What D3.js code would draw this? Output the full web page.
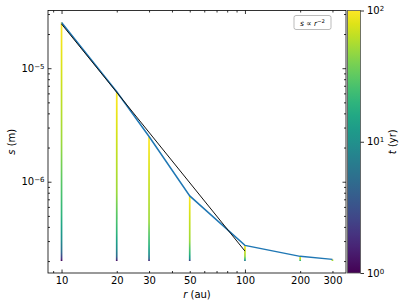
<!DOCTYPE html>
<html>
<head>
<meta charset="utf-8">
<script src="https://cdn.jsdelivr.net/npm/d3@7"></script>
<style>
  body { margin: 0; background: #fff; }
  text { font-family: "DejaVu Sans", sans-serif; fill: #000; }
</style>
</head>
<body>
<svg id="chart" width="407" height="307"></svg>
<script>
// radii (au) and the grain size reached at each output time
const radii = [10, 20, 30, 50, 100, 200, 300];
const times = [1, 2, 5, 10, 20, 50, 100];
const sizeTracks = [
    [2.0e-7, 2.1e-7, 2.4e-7, 3.1e-7, 5.1e-7, 2.2e-6, 2.53e-5],
    [2.0e-7, 2.05e-7, 2.2e-7, 2.6e-7, 3.5e-7, 8.0e-7, 6.2e-6],
    [2.0e-7, 2.02e-7, 2.1e-7, 2.3e-7, 2.8e-7, 4.5e-7, 2.5e-6],
    [2.0e-7, 2.01e-7, 2.04e-7, 2.1e-7, 2.3e-7, 3.0e-7, 7.5e-7],
    [2.0e-7, 2.0e-7, 2.01e-7, 2.03e-7, 2.07e-7, 2.2e-7, 2.75e-7],
    [2.0e-7, 2.0e-7, 2.0e-7, 2.005e-7, 2.015e-7, 2.06e-7, 2.2e-7],
    [2.0e-7, 2.0e-7, 2.0e-7, 2.0e-7, 2.005e-7, 2.02e-7, 2.07e-7]
];
const finalSizes = sizeTracks.map(s => s[s.length - 1]);
const powerLawR = [10, 100];
const powerLawS = [2.45e-5, 2.45e-7];

const xTickValues = [10, 20, 30, 50, 100, 200, 300];
const yMajorTicks = [1e-6, 1e-5];
const cbarTicks = [1, 10, 100];

const margin = { top: 10.5, right: 61, bottom: 34, left: 48 },
      width = 407 - margin.left - margin.right,
      height = 307 - margin.top - margin.bottom;

const svg = d3.select("#chart");
const defs = svg.append("defs");
const g = svg.append("g").attr("transform", `translate(${margin.left},${margin.top})`);

// log axes with matplotlib-like 5% margins
const padLog = (lo, hi) => {
    const a = Math.log10(lo), b = Math.log10(hi), p = (b - a) * 0.05;
    return [10 ** (a - p), 10 ** (b + p)];
};
const allS = sizeTracks.flat().concat(powerLawS);
const x = d3.scaleLog().domain(padLog(d3.min(radii), d3.max(radii))).range([0, width]);
const y = d3.scaleLog().domain(padLog(d3.min(allS), d3.max(allS))).range([height, 0]);
const color = d3.scaleSequentialLog(d3.interpolateViridis).domain([1, 100]);

// vertical tracks coloured by time
sizeTracks.forEach((track, i) => {
    const y0 = y(track[0]), y1 = y(track[track.length - 1]);
    const grad = defs.append("linearGradient")
        .attr("id", "track" + i)
        .attr("gradientUnits", "userSpaceOnUse")
        .attr("x1", 0).attr("x2", 0).attr("y1", y0).attr("y2", y1);
    const stops = [];
    for (let k = 0; k < track.length - 1; k++) {
        for (let j = 0; j < 8; j++) {
            const f = j / 8;
            const ls = Math.log10(track[k]) * (1 - f) + Math.log10(track[k + 1]) * f;
            const lt = Math.log10(times[k]) * (1 - f) + Math.log10(times[k + 1]) * f;
            stops.push({ py: y(10 ** ls), t: 10 ** lt });
        }
    }
    stops.push({ py: y1, t: times[times.length - 1] });
    const span = y1 - y0 || -1;
    grad.selectAll("stop").data(stops).enter().append("stop")
        .attr("offset", d => Math.max(0, Math.min(1, (d.py - y0) / span)))
        .attr("stop-color", d => color(d.t));
    g.append("line")
        .attr("x1", x(radii[i])).attr("x2", x(radii[i]) + 0.001)
        .attr("y1", y0).attr("y2", Math.min(y1, y0 - 1.2))
        .attr("stroke", `url(#track${i})`)
        .attr("stroke-width", 1.7);
});

// final sizes
g.append("path")
    .datum(radii.map((r, i) => [r, finalSizes[i]]))
    .attr("fill", "none")
    .attr("stroke", "#1f77b4")
    .attr("stroke-width", 1.5)
    .attr("d", d3.line().x(d => x(d[0])).y(d => y(d[1])));

// s ∝ r^-2 reference
g.append("path")
    .datum(powerLawR.map((r, i) => [r, powerLawS[i]]))
    .attr("fill", "none")
    .attr("stroke", "#111")
    .attr("stroke-width", 1)
    .attr("d", d3.line().x(d => x(d[0])).y(d => y(d[1])));

// minor tick values
const minorX = [];
[1, 10, 100].forEach(d => { for (let m = 1; m < 10; m++) minorX.push(m * d); });
const minorXIn = minorX.filter(v => v >= x.domain()[0] && v <= x.domain()[1] && v !== 10 && v !== 100);
const minorY = [];
[1e-7, 1e-6, 1e-5].forEach(d => { for (let m = 2; m < 10; m++) minorY.push(m * d); });
const minorYIn = minorY.filter(v => v >= y.domain()[0] && v <= y.domain()[1]);

const styleAxis = sel => {
    sel.select(".domain").remove();
    sel.selectAll("line").attr("stroke", "#000").attr("stroke-width", 0.8);
    sel.selectAll("text").style("font-size", "10px").attr("fill", "#000");
};

// bottom
g.append("g").attr("transform", `translate(0,${height})`)
    .call(d3.axisBottom(x).tickValues([10, 100]).tickSize(-3.5).tickFormat(""))
    .call(styleAxis);
g.append("g").attr("transform", `translate(0,${height})`)
    .call(d3.axisBottom(x).tickValues(minorXIn).tickSize(-2).tickFormat(""))
    .call(styleAxis);
g.append("g").attr("transform", `translate(0,${height})`)
    .call(d3.axisBottom(x).tickValues(xTickValues).tickSize(0).tickPadding(4).tickFormat(d3.format("d")))
    .call(styleAxis);
// top
g.append("g")
    .call(d3.axisTop(x).tickValues([10, 100]).tickSize(-3.5).tickFormat(""))
    .call(styleAxis);
g.append("g")
    .call(d3.axisTop(x).tickValues(minorXIn).tickSize(-2).tickFormat(""))
    .call(styleAxis);

// left
const yAxis = g.append("g")
    .call(d3.axisLeft(y).tickValues(yMajorTicks).tickSize(-3.5).tickPadding(3.5))
    .call(styleAxis);
yAxis.selectAll(".tick text").text(null).each(function(d) {
    const t = d3.select(this);
    t.append("tspan").text("10");
    t.append("tspan").attr("dy", "-0.45em").style("font-size", "7px")
        .text("\u2212" + Math.round(-Math.log10(d)));
});
g.append("g")
    .call(d3.axisLeft(y).tickValues(minorYIn).tickSize(-2).tickFormat(""))
    .call(styleAxis);
// right
g.append("g").attr("transform", `translate(${width},0)`)
    .call(d3.axisRight(y).tickValues(yMajorTicks).tickSize(-3.5).tickFormat(""))
    .call(styleAxis);
g.append("g").attr("transform", `translate(${width},0)`)
    .call(d3.axisRight(y).tickValues(minorYIn).tickSize(-2).tickFormat(""))
    .call(styleAxis);

// frame
g.append("rect")
    .attr("width", width).attr("height", height)
    .attr("fill", "none").attr("stroke", "#000").attr("stroke-width", 0.8);

// axis labels
g.append("text")
    .attr("x", width / 2).attr("y", height + 24.5)
    .attr("text-anchor", "middle").style("font-size", "10px")
    .call(t => {
        t.append("tspan").style("font-style", "italic").text("r");
        t.append("tspan").text(" (au)");
    });
g.append("text")
    .attr("transform", `translate(-33,${height / 2}) rotate(-90)`)
    .attr("text-anchor", "middle").style("font-size", "10px")
    .call(t => {
        t.append("tspan").style("font-style", "italic").text("s");
        t.append("tspan").text(" (m)");
    });

// legend
const lg = g.append("g").attr("transform", `translate(${width - 52},5)`);
lg.append("rect")
    .attr("width", 37).attr("height", 14).attr("rx", 2)
    .attr("fill", "#fff").attr("stroke", "#aaa").attr("stroke-width", 0.8);
lg.append("text")
    .attr("x", 18.5).attr("y", 10).attr("text-anchor", "middle")
    .style("font-size", "7.5px")
    .call(t => {
        t.append("tspan").style("font-style", "italic").text("s");
        t.append("tspan").text(" \u221d ");
        t.append("tspan").style("font-style", "italic").text("r");
        t.append("tspan").attr("dy", "-0.45em").style("font-size", "5.3px").text("\u22122");
    });

// colorbar
const cbX = width + 1.5, cbW = 13;
const cbGrad = defs.append("linearGradient")
    .attr("id", "cbar").attr("x1", 0).attr("x2", 0).attr("y1", 1).attr("y2", 0);
cbGrad.selectAll("stop").data(d3.range(0, 1.0001, 0.05)).enter().append("stop")
    .attr("offset", d => d)
    .attr("stop-color", d => d3.interpolateViridis(d));
g.append("rect")
    .attr("x", cbX).attr("width", cbW).attr("height", height)
    .attr("fill", "url(#cbar)").attr("stroke", "#555").attr("stroke-width", 0.8);
const cScale = d3.scaleLog().domain([1, 100]).range([height, 0]);
const cAxis = g.append("g").attr("transform", `translate(${cbX + cbW},0)`)
    .call(d3.axisRight(cScale).tickValues(cbarTicks).tickSize(3.5).tickPadding(3))
    .call(styleAxis);
cAxis.selectAll(".tick text").text(null).each(function(d) {
    const t = d3.select(this);
    t.append("tspan").text("10");
    t.append("tspan").attr("dy", "-0.45em").style("font-size", "7px")
        .text(Math.round(Math.log10(d)));
});
g.append("text")
    .attr("transform", `translate(${cbX + cbW + 35},${height / 2}) rotate(-90)`)
    .attr("text-anchor", "middle").style("font-size", "10px")
    .call(t => {
        t.append("tspan").style("font-style", "italic").text("t");
        t.append("tspan").text(" (yr)");
    });
</script>
</body>
</html>
